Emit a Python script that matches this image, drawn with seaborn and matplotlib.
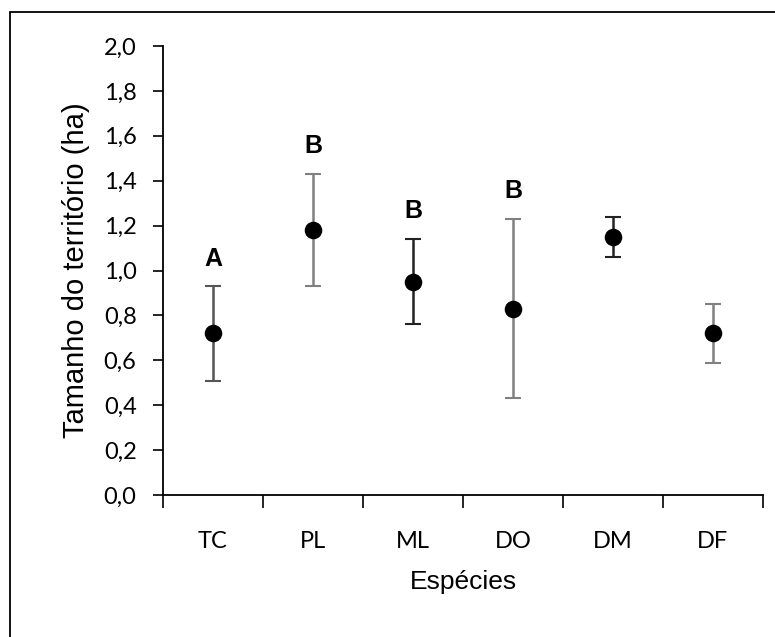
import numpy as np
import pandas as pd
import seaborn as sns
import matplotlib.pyplot as plt
from matplotlib.patches import Rectangle
from matplotlib.ticker import FuncFormatter, FixedLocator

especies = ["TC", "PL", "ML", "DO", "DM", "DF"]
media = [0.72, 1.18, 0.95, 0.83, 1.15, 0.72]
superior = [0.93, 1.43, 1.14, 1.23, 1.24, 0.85]
inferior = [0.51, 0.93, 0.76, 0.43, 1.06, 0.59]
letras = ["A", "B", "B", "B", "", ""]
cores_barra = ["#555555", "#808080", "#222222", "#808080", "#222222", "#808080"]

df = pd.DataFrame({"especie": especies, "media": media,
                   "sup": superior, "inf": inferior})
df["pos"] = np.arange(len(df))

sns.set_style("white")
plt.rcParams["font.family"] = ["Lato", "DejaVu Sans"]
plt.rcParams["text.color"] = "black"
plt.rcParams["axes.labelcolor"] = "black"
plt.rcParams["xtick.color"] = "black"
plt.rcParams["ytick.color"] = "black"

fig = plt.figure(figsize=(7.75, 6.37), dpi=100)
ax = fig.add_axes([0.2103, 0.2229, 0.7742, 0.7049])

# barras de erro
for i, row in df.iterrows():
    ax.errorbar(row["pos"], row["media"],
                yerr=[[row["media"] - row["inf"]], [row["sup"] - row["media"]]],
                fmt="none", ecolor=cores_barra[i], elinewidth=1.8,
                capsize=6, capthick=1.5, zorder=2)

sns.scatterplot(data=df, x="pos", y="media", color="black", s=160,
                edgecolor="black", linewidth=0, zorder=3, ax=ax, legend=False)

for i, row in df.iterrows():
    if letras[i]:
        ax.text(row["pos"], row["sup"] + 0.07, letras[i], ha="center",
                va="bottom", fontsize=18, fontweight="bold",
                family=["Liberation Sans", "DejaVu Sans"])

ax.set_xlim(-0.5, len(df) - 0.5)
ax.set_ylim(0, 2.0)
ax.set_yticks(np.arange(0, 2.01, 0.2))
ax.yaxis.set_major_formatter(FuncFormatter(lambda v, p: f"{v:.1f}".replace(".", ",")))

ax.xaxis.set_major_locator(FixedLocator(np.arange(-0.5, len(df), 1.0)))
ax.set_xticklabels([])
ax.xaxis.set_minor_locator(FixedLocator(df["pos"]))
ax.set_xticklabels(especies, minor=True)
ax.tick_params(axis="x", which="major", direction="out", length=9, width=1.2,
               color="black", bottom=True)
ax.tick_params(axis="x", which="minor", length=0, pad=26, labelsize=17)
ax.tick_params(axis="y", direction="out", length=7, width=1.2, color="black",
               left=True, labelsize=17, pad=12)

for s in ["top", "right"]:
    ax.spines[s].set_visible(False)
for s in ["left", "bottom"]:
    ax.spines[s].set_color("black")
    ax.spines[s].set_linewidth(1.3)

ax.set_xlabel("Espécies", fontsize=19, labelpad=13,
              family=["Liberation Sans", "DejaVu Sans"])
ax.set_ylabel("Tamanho do território (ha)", fontsize=21,
              family=["Liberation Sans", "DejaVu Sans"], labelpad=10)

# moldura (apenas topo e esquerda visíveis)
fig.patches.append(Rectangle((10 / 775, -20 / 637), 800 / 775, 645 / 637,
                             transform=fig.transFigure, fill=False,
                             edgecolor="black", linewidth=1.3))

fig.savefig("out.png", dpi=100)
